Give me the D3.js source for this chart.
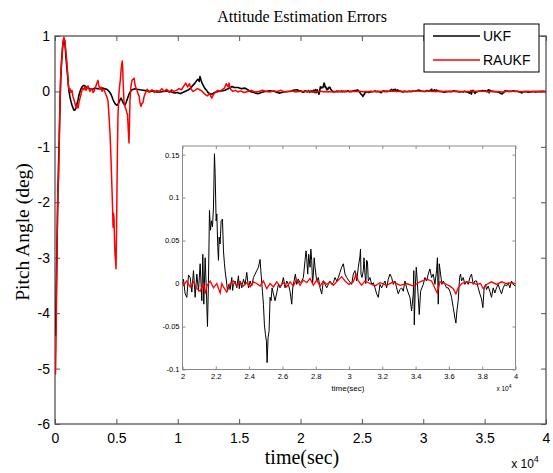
<!DOCTYPE html>
<html>
<head>
<meta charset="utf-8">
<script src="https://cdn.jsdelivr.net/npm/d3@7"></script>
<style>
body { margin: 0; background: #fff; }
svg text { fill: #000; }
</style>
</head>
<body>
<div id="chart"></div>
<script>
// legend / series names
var seriesNames = ["UKF", "RAUKF"];

// main x ticks (x 10^4 sec) and y ticks (deg)
var mainXTicks = [0, 5000, 10000, 15000, 20000, 25000, 30000, 35000, 40000];
var mainYTicks = [-6, -5, -4, -3, -2, -1, 0, 1];
// inset ticks
var insetXTicks = [20000, 22000, 24000, 26000, 28000, 30000, 32000, 34000, 36000, 38000, 40000];
var insetYTicks = [-0.1, -0.05, 0, 0.05, 0.1, 0.15];

// UKF, 0 - 20000 sec  [time, pitch error]
var ukfEarly = [[0,-4.3],[40,-4.4],[80,-4.0],[120,-3.4],[160,-2.8],[200,-2.3],[240,-1.8],[290,-1.3],[330,-1.0],[370,-0.6],[410,-0.2],[450,0.1],[490,0.35],[530,0.5],[570,0.65],[610,0.78],[650,0.85],[690,0.92],[730,0.95],[770,0.92],[815,0.85],[860,0.72],[900,0.6],[940,0.5],[980,0.4],[1020,0.3],[1060,0.2],[1100,0.08],[1140,0.0],[1180,-0.05],[1220,-0.1],[1300,-0.18],[1385,-0.25],[1470,-0.3],[1550,-0.34],[1630,-0.33],[1710,-0.3],[1790,-0.22],[1875,-0.15],[1960,-0.06],[2040,0.0],[2120,0.05],[2200,0.08],[2280,0.1],[2360,0.11],[2440,0.1],[2525,0.08],[2690,0.06],[2850,0.05],[3050,0.04],[3260,0.06],[3460,0.05],[3670,0.05],[3870,0.06],[4070,0.05],[4200,0.04],[4320,0.02],[4440,-0.01],[4560,-0.05],[4650,-0.1],[4730,-0.15],[4810,-0.19],[4890,-0.22],[4970,-0.24],[5050,-0.25],[5130,-0.23],[5210,-0.2],[5300,-0.15],[5380,-0.12],[5460,-0.16],[5540,-0.2],[5620,-0.23],[5700,-0.25],[5790,-0.2],[5870,-0.15],[5950,-0.1],[6030,-0.05],[6150,0.0],[6275,0.03],[6400,0.04],[6520,0.05],[6700,0.04],[6930,0.03],[7200,0.02],[7500,0.01],[7740,0.0],[8000,0.01],[8300,-0.01],[8550,-0.01],[8800,0.0],[9100,0.01],[9370,0.0],[9600,-0.02],[9780,-0.03],[10000,-0.02],[10180,-0.04],[10400,-0.02],[10590,0.0],[10800,0.02],[11000,0.05],[11200,0.1],[11400,0.15],[11550,0.2],[11650,0.22],[11750,0.18],[11810,0.27],[11900,0.2],[11980,0.15],[12100,0.1],[12220,0.05],[12350,0.02],[12460,-0.02],[12600,-0.04],[12790,-0.05],[13000,-0.02],[13280,0.0],[13550,0.01],[13850,0.02],[14100,0.05],[14300,0.07],[14420,0.09],[14600,0.07],[14910,0.07],[15200,0.05],[15480,0.06],[15700,0.03],[15890,0.0],[16200,-0.02],[16540,-0.04],[16800,-0.02],[17110,0.0],[17500,0.01],[17920,0.0],[18100,-0.02],[18330,-0.03],[18600,-0.01],[18900,0.0],[19150,0.0],[19400,0.02],[19720,0.03],[19900,0.01]];

// RAUKF, 0 - 20000 sec
var raukfEarly = [[0,-5.1],[40,-5.1],[80,-4.6],[120,-3.8],[160,-3.0],[200,-2.2],[240,-1.7],[290,-1.6],[330,-1.1],[370,-0.6],[410,-0.2],[450,0.2],[490,0.35],[530,0.55],[570,0.62],[610,0.75],[650,0.88],[690,0.95],[730,0.98],[770,0.9],[815,0.92],[860,0.78],[900,0.68],[940,0.6],[980,0.48],[1020,0.36],[1060,0.22],[1100,0.1],[1140,0.04],[1180,0.02],[1220,0.05],[1300,-0.02],[1385,0.02],[1470,-0.1],[1550,-0.15],[1630,-0.22],[1710,-0.3],[1790,-0.25],[1875,-0.3],[1950,-0.2],[2040,-0.12],[2120,-0.05],[2200,0.02],[2280,0.06],[2360,0.03],[2440,0.08],[2525,0.02],[2610,0.05],[2690,0.1],[2770,0.04],[2850,0.0],[2930,0.05],[3015,0.04],[3100,-0.02],[3180,0.0],[3260,0.06],[3340,0.1],[3420,0.15],[3500,0.2],[3580,0.1],[3670,0.04],[3750,0.08],[3830,0.0],[3910,0.04],[4000,0.03],[4080,-0.02],[4150,-0.06],[4230,-0.1],[4320,-0.18],[4400,-0.45],[4480,-0.75],[4560,-1.2],[4640,-1.75],[4690,-2.1],[4730,-2.45],[4770,-2.2],[4810,-2.3],[4850,-2.7],[4890,-2.95],[4930,-3.05],[4970,-3.2],[5010,-2.6],[5050,-1.75],[5090,-1.0],[5130,-0.45],[5190,-0.1],[5250,0.07],[5320,0.2],[5380,0.38],[5430,0.48],[5480,0.55],[5510,0.45],[5540,0.25],[5580,0.0],[5620,-0.18],[5700,-0.28],[5785,-0.32],[5850,-0.38],[5910,-0.42],[5970,-0.7],[6030,-0.93],[6070,-0.55],[6110,-0.15],[6190,0.1],[6275,0.2],[6360,0.22],[6440,0.24],[6520,0.12],[6600,0.06],[6680,0.02],[6760,-0.04],[6845,-0.08],[6920,-0.2],[7000,-0.27],[7080,-0.22],[7170,-0.2],[7250,-0.1],[7330,-0.05],[7420,0.0],[7500,0.04],[7580,0.02],[7660,-0.02],[7740,0.0],[7900,0.03],[8100,-0.02],[8300,0.02],[8500,0.0],[8700,0.05],[8900,0.0],[9100,0.04],[9300,-0.02],[9500,0.03],[9700,0.0],[9900,0.02],[10100,0.05],[10300,0.03],[10500,0.1],[10650,0.15],[10800,0.08],[10950,0.14],[11100,0.04],[11250,0.0],[11400,0.02],[11600,0.05],[11800,0.03],[12000,0.0],[12200,-0.05],[12400,-0.08],[12600,-0.04],[12770,-0.12],[12900,-0.06],[13050,-0.02],[13250,0.02],[13440,0.0],[13600,0.03],[13800,0.06],[13950,0.14],[14100,0.08],[14180,0.15],[14300,0.04],[14500,0.0],[14700,0.02],[14900,-0.01],[15100,0.01],[15400,-0.02],[15700,0.0],[16000,0.02],[16300,-0.01],[16600,0.0],[16900,0.02],[17200,0.0],[17500,-0.01],[17800,0.01],[18100,0.0],[18400,0.02],[18700,-0.01],[19000,0.0],[19300,0.01],[19600,-0.01],[19900,0.0]];

// UKF, 20000 - 40000 sec (also shown in the zoomed inset)
var ukfLate = [[20060,0.005],[20160,-0.012],[20260,-0.016],[20360,0.010],[20460,0.007],[20560,-0.010],[20660,0.015],[20760,-0.016],[20860,0.011],[20960,-0.009],[21060,0.023],[21160,-0.020],[21220,0.034],[21280,-0.024],[21360,0.030],[21440,-0.012],[21500,-0.050],[21560,0.003],[21620,0.085],[21680,0.062],[21740,0.073],[21800,0.066],[21860,0.089],[21920,0.151],[21960,0.128],[22020,0.073],[22060,0.081],[22120,0.042],[22160,0.027],[22200,0.054],[22260,0.046],[22320,0.073],[22400,0.075],[22460,0.038],[22520,0.023],[22580,0.011],[22640,0.003],[22700,-0.009],[22780,-0.001],[22860,-0.007],[22960,0.007],[23010,-0.008],[23060,-0.001],[23160,0.003],[23260,-0.005],[23360,0.009],[23410,-0.006],[23460,0.003],[23560,-0.005],[23660,0.005],[23760,-0.001],[23860,0.013],[23960,-0.005],[24060,0.003],[24160,-0.003],[24260,0.007],[24360,0.011],[24460,0.015],[24560,0.019],[24660,0.028],[24720,0.011],[24800,-0.009],[24860,-0.024],[24920,-0.048],[24980,-0.059],[25040,-0.067],[25080,-0.092],[25140,-0.063],[25200,-0.055],[25260,-0.016],[25320,-0.020],[25380,-0.005],[25460,-0.012],[25560,-0.020],[25660,-0.011],[25760,-0.001],[25860,-0.005],[25960,-0.001],[26060,0.007],[26160,-0.005],[26260,0.003],[26360,-0.001],[26460,-0.009],[26560,-0.024],[26620,-0.005],[26700,0.003],[26780,0.011],[26860,-0.001],[26960,0.005],[27060,0.001],[27160,0.003],[27260,0.007],[27360,0.027],[27420,0.038],[27460,0.030],[27520,0.011],[27580,0.034],[27660,0.019],[27710,0.040],[27760,0.027],[27810,0.000],[27860,0.011],[27910,0.030],[27960,0.019],[28060,0.003],[28160,0.007],[28260,-0.005],[28360,-0.012],[28460,0.003],[28560,-0.001],[28660,-0.005],[28760,-0.001],[28860,0.003],[28960,-0.001],[29060,0.001],[29160,0.007],[29260,0.003],[29360,0.007],[29460,0.013],[29560,0.019],[29660,0.023],[29760,0.011],[29860,0.007],[30000,0.003],[30160,-0.001],[30260,0.011],[30360,0.015],[30460,0.003],[30560,0.019],[30660,0.032],[30690,0.040],[30720,0.011],[30780,0.007],[30860,0.015],[30900,0.030],[30960,0.011],[31010,0.000],[31060,0.027],[31110,0.025],[31160,0.003],[31260,0.007],[31360,-0.001],[31460,0.001],[31560,-0.005],[31660,-0.012],[31760,-0.016],[31860,-0.001],[31960,-0.005],[32060,-0.001],[32160,0.003],[32260,-0.005],[32360,0.005],[32460,0.011],[32560,0.007],[32660,-0.001],[32760,0.003],[32860,-0.005],[32960,-0.012],[33060,-0.007],[33160,-0.005],[33260,-0.009],[33360,0.003],[33460,-0.005],[33560,-0.011],[33660,-0.016],[33760,-0.032],[33860,-0.012],[33890,0.015],[33920,-0.048],[33980,-0.005],[34040,0.019],[34100,0.003],[34160,-0.016],[34220,-0.036],[34300,-0.009],[34380,-0.005],[34460,-0.001],[34560,0.007],[34660,0.003],[34760,0.011],[34860,0.017],[34960,0.007],[35060,0.011],[35160,-0.001],[35260,0.015],[35310,0.030],[35360,-0.024],[35420,0.023],[35500,0.011],[35580,-0.001],[35660,0.003],[35760,-0.001],[35860,-0.005],[35960,-0.005],[36060,-0.009],[36160,-0.016],[36260,-0.028],[36360,-0.040],[36420,-0.046],[36480,-0.032],[36560,-0.020],[36640,0.007],[36700,0.011],[36760,0.003],[36860,0.007],[36960,-0.001],[37060,0.003],[37160,-0.001],[37260,0.007],[37360,0.011],[37460,-0.001],[37560,0.003],[37660,0.003],[37760,-0.005],[37860,-0.012],[37960,-0.018],[38040,-0.028],[38120,-0.005],[38200,-0.001],[38260,-0.007],[38360,-0.003],[38460,-0.009],[38560,-0.016],[38660,-0.005],[38760,-0.011],[38860,-0.005],[38960,-0.001],[39060,-0.007],[39160,-0.012],[39260,-0.005],[39360,-0.001],[39460,-0.003],[39560,0.001],[39660,-0.005],[39760,0.003],[39860,-0.001],[40000,-0.003]];

// RAUKF, 20000 - 40000 sec
var raukfLate = [[20060,-0.002],[20260,0.003],[20460,-0.004],[20660,0.002],[20860,-0.006],[21060,-0.009],[21260,0.000],[21360,-0.012],[21460,-0.003],[21660,0.003],[21860,-0.005],[22060,0.000],[22260,-0.011],[22360,0.000],[22460,-0.004],[22660,-0.010],[22860,0.000],[23060,0.003],[23260,-0.003],[23460,0.002],[23660,-0.003],[23860,0.001],[24060,-0.004],[24260,0.002],[24460,0.000],[24660,-0.003],[24860,0.003],[25060,-0.006],[25260,0.000],[25460,-0.004],[25660,0.002],[25860,-0.003],[26060,0.001],[26260,-0.004],[26460,0.002],[26660,-0.003],[26860,0.005],[27060,-0.002],[27260,0.004],[27460,0.001],[27660,0.006],[27860,-0.002],[28060,0.004],[28260,-0.003],[28460,0.003],[28660,-0.001],[28860,0.002],[29060,-0.002],[29260,0.002],[29460,0.006],[29560,0.008],[29760,0.003],[30000,-0.001],[30260,0.002],[30420,0.011],[30560,0.003],[30760,-0.002],[30960,0.003],[31260,0.000],[31560,-0.003],[31860,0.001],[32260,-0.002],[32660,0.002],[33060,-0.002],[33460,0.000],[33860,-0.003],[34260,0.002],[34660,0.005],[34960,0.003],[35220,-0.008],[35300,-0.011],[35460,0.002],[35760,0.000],[36060,-0.003],[36260,-0.006],[36420,-0.012],[36560,-0.005],[36760,0.000],[37060,0.002],[37360,0.001],[37660,-0.001],[37900,0.000],[38060,-0.006],[38260,-0.001],[38560,0.002],[38860,-0.001],[39160,0.002],[39460,0.000],[39760,0.001],[40000,0.000]];

(function(){
var W = 553, H = 473;
var svg = d3.select("#chart").append("svg")
  .attr("width", W).attr("height", H)
  .style("font-family", "'Liberation Sans', Arial, sans-serif");

var mLeft = 55, mRight = 546, mTop = 36, mBottom = 424;

var x = d3.scaleLinear().domain([0, 40000]).range([mLeft, mRight]);
var y = d3.scaleLinear().domain([-6, 1]).range([mBottom, mTop]);

var axisColor = "#555";
var serif = "'Liberation Serif', 'Times New Roman', serif";
var defs = svg.append("defs");

defs.append("clipPath").attr("id", "mainClip")
  .append("rect").attr("x", mLeft).attr("y", mTop)
  .attr("width", mRight - mLeft).attr("height", mBottom - mTop);

// ticks pointing inward on all 4 sides
function styleAxis(g, color, size) {
  g.select(".domain").remove();
  g.selectAll(".tick line").attr("stroke", color);
  g.selectAll(".tick text").style("font-size", size + "px").attr("fill", "#000");
}

svg.append("g")
  .attr("transform", "translate(0," + mBottom + ")")
  .call(d3.axisBottom(x).tickValues(mainXTicks).tickSize(-5).tickPadding(9)
    .tickFormat(function(d){ return String(d / 10000); }))
  .call(styleAxis, axisColor, 14);

svg.append("g")
  .attr("transform", "translate(0," + mTop + ")")
  .call(d3.axisTop(x).tickValues(mainXTicks).tickSize(-5).tickFormat(""))
  .call(styleAxis, axisColor, 14);

svg.append("g")
  .attr("transform", "translate(" + mLeft + ",0)")
  .call(d3.axisLeft(y).tickValues(mainYTicks).tickSize(-5).tickPadding(5)
    .tickFormat(function(d){ return String(d); }))
  .call(styleAxis, axisColor, 14);

svg.append("g")
  .attr("transform", "translate(" + mRight + ",0)")
  .call(d3.axisRight(y).tickValues(mainYTicks).tickSize(-5).tickFormat(""))
  .call(styleAxis, axisColor, 14);

svg.append("rect")
  .attr("x", mLeft).attr("y", mTop)
  .attr("width", mRight - mLeft).attr("height", mBottom - mTop)
  .attr("fill", "none").attr("stroke", axisColor).attr("stroke-width", 1.3);

var mainLine = d3.line()
  .x(function(d){ return x(d[0]); })
  .y(function(d){ return y(d[1]); });

var plot = svg.append("g").attr("clip-path", "url(#mainClip)");
plot.append("path")
  .datum(ukfEarly.concat(ukfLate))
  .attr("d", mainLine)
  .attr("fill", "none").attr("stroke", "#000").attr("stroke-width", 1.6)
  .attr("stroke-linejoin", "round");
plot.append("path")
  .datum(raukfEarly.concat(raukfLate))
  .attr("d", mainLine)
  .attr("fill", "none").attr("stroke", "#ff0000").attr("stroke-width", 1.5)
  .attr("stroke-linejoin", "round");

// title and labels
svg.append("text")
  .attr("x", 302).attr("y", 22)
  .attr("text-anchor", "middle")
  .style("font-family", serif)
  .style("font-size", "16px")
  .text("Attitude Estimation Errors");

svg.append("text")
  .attr("transform", "translate(29," + 232 + ") rotate(-90)")
  .attr("text-anchor", "middle")
  .style("font-family", serif)
  .style("font-size", "19.5px")
  .text("Pitch Angle (deg)");

svg.append("text")
  .attr("x", 302).attr("y", 464)
  .attr("text-anchor", "middle")
  .style("font-family", serif)
  .style("font-size", "20px")
  .text("time(sec)");

var mult = svg.append("text")
  .attr("x", 525).attr("y", 468)
  .attr("text-anchor", "middle")
  .style("font-size", "12px");
mult.append("tspan").text("x 10");
mult.append("tspan").attr("dy", -6).style("font-size", "9px").text("4");

// legend
var legend = svg.append("g").attr("transform", "translate(424,24)");
legend.append("rect")
  .attr("width", 115).attr("height", 48)
  .attr("fill", "#fff").attr("stroke", "#000").attr("stroke-width", 1);
var legendColors = ["#000", "#ff0000"];
seriesNames.forEach(function(name, i){
  var ly = 12 + i * 24;
  legend.append("line")
    .attr("x1", 9).attr("x2", 56).attr("y1", ly).attr("y2", ly)
    .attr("stroke", legendColors[i]).attr("stroke-width", 1.4);
  legend.append("text")
    .attr("x", 59).attr("y", ly + 5)
    .style("font-size", "14px")
    .text(name);
});

// ---- inset ----
var iLeft = 182.5, iRight = 515.5, iTop = 146, iBottom = 369.5;
var ix = d3.scaleLinear().domain([20000, 40000]).range([iLeft, iRight]);
var iy = d3.scaleLinear().domain([-0.1, 0.16]).range([iBottom, iTop]);
var insetColor = "#8a8a8a";

svg.append("rect")
  .attr("x", iLeft).attr("y", iTop)
  .attr("width", iRight - iLeft).attr("height", iBottom - iTop)
  .attr("fill", "#fff");

defs.append("clipPath").attr("id", "insetClip")
  .append("rect").attr("x", iLeft).attr("y", iTop)
  .attr("width", iRight - iLeft).attr("height", iBottom - iTop);

svg.append("g")
  .attr("transform", "translate(0," + iBottom + ")")
  .call(d3.axisBottom(ix).tickValues(insetXTicks).tickSize(-3).tickPadding(4.5)
    .tickFormat(function(d){ return String(d / 10000); }))
  .call(styleAxis, insetColor, 7.5);

svg.append("g")
  .attr("transform", "translate(0," + iTop + ")")
  .call(d3.axisTop(ix).tickValues(insetXTicks).tickSize(-3).tickFormat(""))
  .call(styleAxis, insetColor, 7.5);

svg.append("g")
  .attr("transform", "translate(" + iLeft + ",0)")
  .call(d3.axisLeft(iy).tickValues(insetYTicks).tickSize(-3).tickPadding(3)
    .tickFormat(function(d){ return String(d); }))
  .call(styleAxis, insetColor, 7.5);

svg.append("g")
  .attr("transform", "translate(" + iRight + ",0)")
  .call(d3.axisRight(iy).tickValues(insetYTicks).tickSize(-3).tickFormat(""))
  .call(styleAxis, insetColor, 7.5);

svg.append("rect")
  .attr("x", iLeft).attr("y", iTop)
  .attr("width", iRight - iLeft).attr("height", iBottom - iTop)
  .attr("fill", "none").attr("stroke", insetColor).attr("stroke-width", 1);

var insetLine = d3.line()
  .x(function(d){ return ix(d[0]); })
  .y(function(d){ return iy(d[1]); });

var insetPlot = svg.append("g").attr("clip-path", "url(#insetClip)");
insetPlot.append("path")
  .datum([[20000, 0.0]].concat(ukfLate))
  .attr("d", insetLine)
  .attr("fill", "none").attr("stroke", "#000").attr("stroke-width", 1);
insetPlot.append("path")
  .datum([[20000, 0.0]].concat(raukfLate))
  .attr("d", insetLine)
  .attr("fill", "none").attr("stroke", "#ff0000").attr("stroke-width", 1.3);

svg.append("text")
  .attr("x", 348).attr("y", 391)
  .attr("text-anchor", "middle")
  .style("font-size", "8px")
  .text("time(sec)");

var imult = svg.append("text")
  .attr("x", 504).attr("y", 391)
  .attr("text-anchor", "middle")
  .style("font-size", "6.5px");
imult.append("tspan").text("x 10");
imult.append("tspan").attr("dy", -3).style("font-size", "5px").text("4");
})();
</script>
</body>
</html>
